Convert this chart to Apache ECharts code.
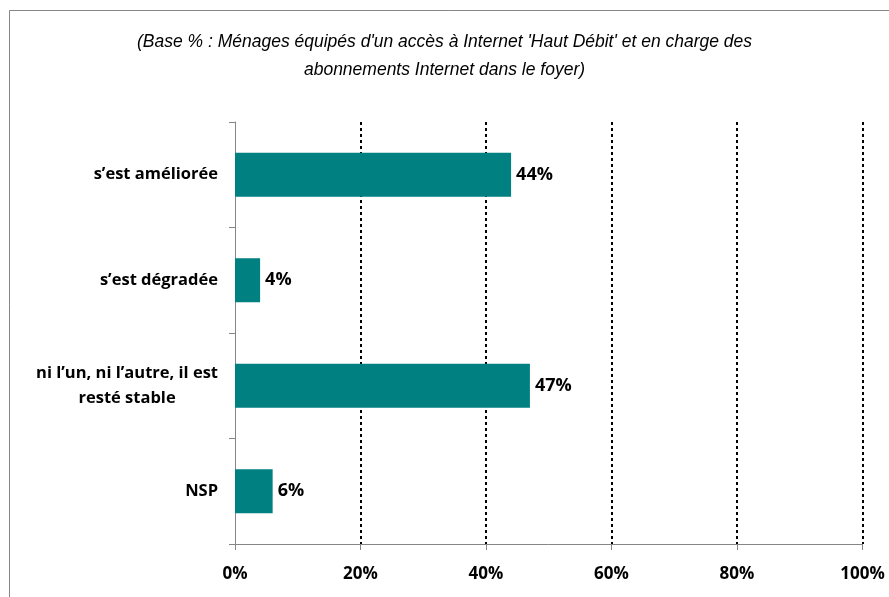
<!DOCTYPE html>
<html>
<head>
<meta charset="utf-8">
<script src="https://cdn.jsdelivr.net/npm/echarts@6/dist/echarts.min.js"></script>
<style>
  html, body { margin: 0; padding: 0; background: #fff; }
  #chart { width: 889px; height: 597px; }
</style>
</head>
<body>
<div id="chart"></div>
<script>
// donnees
var categories = ['s’est améliorée', 's’est dégradée', 'ni l’un, ni l’autre, il est\nresté stable', 'NSP'];
var values = [44, 4, 47, 6];
var xTicks = [0, 20, 40, 60, 80, 100];
var titleText = "(Base % : Ménages équipés d'un accès à Internet 'Haut Débit' et en charge des\nabonnements Internet dans le foyer)";

var myChart = echarts.init(document.getElementById('chart'));

var option = {
  animation: false,
  title: {
    text: titleText,
    left: 'center',
    top: 23,
    textStyle: {
      fontFamily: 'Liberation Sans',
      fontStyle: 'italic',
      fontWeight: 'normal',
      fontSize: 17.5,
      lineHeight: 28,
      color: '#000'
    }
  },
  graphic: [{
    type: 'rect',
    shape: { x: 9.5, y: 10.5, width: 1000, height: 700 },
    style: { fill: 'none', stroke: '#868686', lineWidth: 1 }
  }],
  grid: { left: 235, right: 26.5, top: 122, bottom: 53 },
  xAxis: {
    type: 'value',
    min: xTicks[0],
    max: xTicks[xTicks.length - 1],
    interval: 20,
    axisLine: { show: true, lineStyle: { color: '#868686', width: 1 } },
    axisTick: { show: true, length: 6, lineStyle: { color: '#868686' } },
    axisLabel: {
      margin: 22,
      color: '#000',
      fontFamily: 'Open Sans',
      fontWeight: 'bold',
      fontSize: 17,
      formatter: '{value}%'
    },
    splitLine: {
      show: true,
      showMinLine: false,
      lineStyle: { color: '#000', type: [3, 3], width: 2 }
    }
  },
  yAxis: {
    type: 'category',
    data: categories,
    inverse: true,
    axisLine: { show: true, lineStyle: { color: '#868686', width: 1 } },
    axisTick: { show: true, length: 6, lineStyle: { color: '#868686' } },
    axisLabel: {
      margin: 17,
      align: 'right',
      color: '#000',
      fontFamily: 'Open Sans',
      fontWeight: 'bold',
      fontSize: 16.5,
      lineHeight: 25,
      formatter: function (v) {
        return v.split('\n').map(function (s) { return '{c|' + s + '}'; }).join('\n');
      },
      rich: {
        c: {
          align: 'center',
          color: '#000',
          fontFamily: 'Open Sans',
          fontWeight: 'bold',
          fontSize: 16.5,
          lineHeight: 25
        }
      }
    },
    splitLine: { show: false }
  },
  series: [{
    type: 'bar',
    data: values,
    barWidth: 44,
    itemStyle: { color: '#008080' },
    label: {
      show: true,
      position: 'right',
      distance: 5,
      formatter: '{c}%',
      color: '#000',
      fontFamily: 'Open Sans',
      fontWeight: 'bold',
      fontSize: 18
    }
  }]
};

myChart.setOption(option);
</script>
</body>
</html>
